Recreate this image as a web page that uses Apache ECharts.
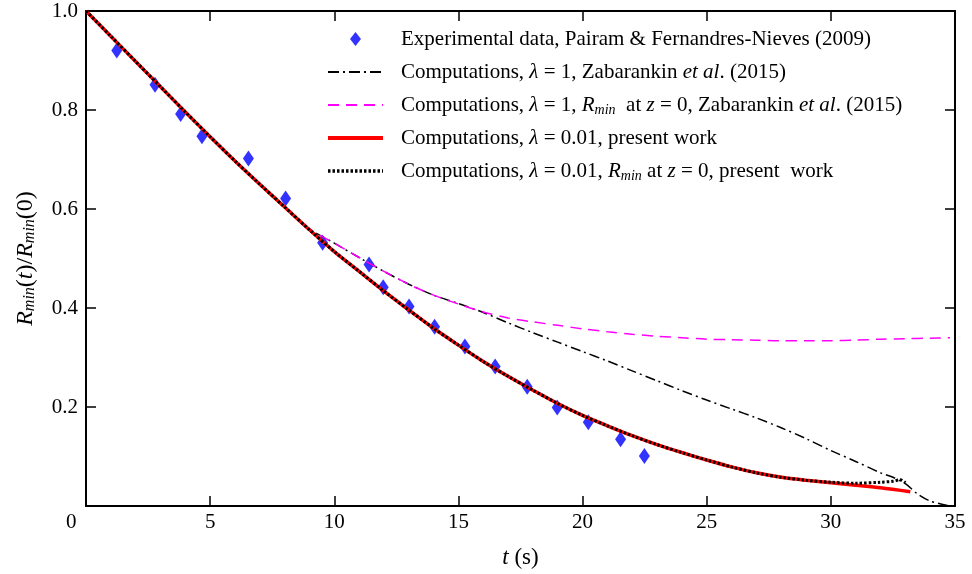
<!DOCTYPE html>
<html>
<head>
<meta charset="utf-8">
<script src="https://cdn.jsdelivr.net/npm/echarts@6/dist/echarts.min.js"></script>
<style>html,body{margin:0;padding:0;background:#fff;}#c{width:972px;height:574px;}</style>
</head>
<body>
<div id="c"></div>
<script>
// ---- data ----
var xTicks = [0, 5, 10, 15, 20, 25, 30, 35];
var yTicks = [0, 0.2, 0.4, 0.6, 0.8, 1.0];

var tExp = [1.24, 2.78, 3.81, 4.67, 6.54, 8.04, 9.53, 11.40, 11.97, 13.01, 14.04, 15.26, 16.48, 17.77, 18.98, 20.23, 21.53, 22.49];
var rExp = [0.920, 0.851, 0.792, 0.747, 0.702, 0.621, 0.532, 0.488, 0.442, 0.403, 0.362, 0.322, 0.282, 0.241, 0.199, 0.169, 0.135, 0.101];

var tZab = [0, 1, 2, 3, 4, 5, 6, 7, 8, 9, 10, 11, 12, 13, 14, 15, 16, 17, 18, 19, 20, 21, 22, 23, 24, 25, 26, 27, 28, 29, 30, 31, 32, 32.5, 33, 33.5, 34, 34.7];
var rZab = [1.0, 0.949, 0.898, 0.847, 0.796, 0.746, 0.697, 0.650, 0.604, 0.560, 0.531, 0.502, 0.474, 0.448, 0.426, 0.409, 0.391, 0.370, 0.350, 0.331, 0.312, 0.293, 0.273, 0.253, 0.233, 0.214, 0.196, 0.178, 0.158, 0.136, 0.112, 0.090, 0.067, 0.058, 0.045, 0.024, 0.010, 0.001];

var tZabZ0 = [0, 1, 2, 3, 4, 5, 6, 7, 8, 9, 10, 11, 12, 13, 14, 15, 16, 17, 18, 19, 20, 21, 22, 23, 24, 25, 26, 27, 28, 29, 30, 31, 32, 33, 34, 34.8];
var rZabZ0 = [1.0, 0.949, 0.898, 0.847, 0.796, 0.746, 0.697, 0.650, 0.604, 0.560, 0.531, 0.502, 0.474, 0.448, 0.426, 0.408, 0.392, 0.380, 0.372, 0.365, 0.358, 0.352, 0.347, 0.343, 0.340, 0.337, 0.336, 0.335, 0.334, 0.334, 0.334, 0.335, 0.337, 0.338, 0.339, 0.340];

var tPresent = [0, 1, 2, 3, 4, 5, 6, 7, 8, 9, 10, 11, 12, 13, 14, 15, 16, 17, 18, 19, 20, 21, 22, 23, 24, 25, 26, 27, 28, 29, 30, 31, 32, 33.2];
var rPresent = [1.0, 0.949, 0.898, 0.847, 0.796, 0.746, 0.697, 0.650, 0.604, 0.558, 0.514, 0.474, 0.434, 0.396, 0.359, 0.325, 0.292, 0.262, 0.234, 0.207, 0.183, 0.162, 0.142, 0.124, 0.108, 0.093, 0.079, 0.067, 0.058, 0.052, 0.047, 0.042, 0.037, 0.029];

var tPresentZ0 = [0, 1, 2, 3, 4, 5, 6, 7, 8, 9, 10, 11, 12, 13, 14, 15, 16, 17, 18, 19, 20, 21, 22, 23, 24, 25, 26, 27, 28, 29, 30, 31, 32, 32.5, 32.8, 33.0];
var rPresentZ0 = [1.0, 0.949, 0.898, 0.847, 0.796, 0.746, 0.697, 0.650, 0.604, 0.558, 0.514, 0.474, 0.434, 0.396, 0.359, 0.325, 0.292, 0.262, 0.234, 0.207, 0.183, 0.162, 0.142, 0.124, 0.108, 0.093, 0.079, 0.067, 0.058, 0.052, 0.048, 0.046, 0.048, 0.050, 0.053, 0.047];

var legendTexts = {
  exp: 'Experimental data, Pairam & Fernandres-Nieves (2009)',
  zab: 'Computations, {i|λ} = 1, Zabarankin {i|et al}. (2015)',
  zabz0: 'Computations, {i|λ} = 1, {i|R}{s|min}  at {i|z} = 0, Zabarankin {i|et al}. (2015)',
  present: 'Computations, {i|λ} = 0.01, present work',
  presentz0: 'Computations, {i|λ} = 0.01, {i|R}{s|min} at {i|z} = 0, present  work'
};

function pairs(t, r) { return t.map(function (v, i) { return [v, r[i]]; }); }

var FF = '"Liberation Serif", "DejaVu Serif", serif';
var chart = echarts.init(document.getElementById('c'));

var LH = 24;
var richBase = {
  i: { fontStyle: 'italic', fontFamily: FF, fontSize: 21, color: '#000', lineHeight: LH },
  s: { fontStyle: 'italic', fontFamily: FF, fontSize: 14, color: '#000', lineHeight: LH, verticalAlign: 'bottom', padding: [9, 0, 0, 0] }
};

function xAx(pos, showLabels) {
  return {
    type: 'value', position: pos, min: xTicks[0], max: xTicks[xTicks.length - 1], interval: xTicks[1] - xTicks[0],
    axisLine: { show: true, onZero: false, lineStyle: { color: '#000', width: 2 } },
    axisTick: { show: true, inside: true, length: 10, lineStyle: { color: '#000', width: 1.5 } },
    axisLabel: { show: showLabels, color: '#000', fontFamily: FF, fontSize: 21, margin: 6,
      formatter: function (v) { return v === 0 ? '' : String(v); } },
    splitLine: { show: false },
    name: showLabels ? '{i|t} (s)' : '',
    nameLocation: 'middle', nameGap: 40,
    nameTextStyle: { fontFamily: FF, fontSize: 23, color: '#000', rich: { i: { fontStyle: 'italic', fontFamily: FF, fontSize: 23, color: '#000' } } }
  };
}
function yAx(pos, showLabels) {
  return {
    type: 'value', position: pos, min: yTicks[0], max: yTicks[yTicks.length - 1], interval: yTicks[1] - yTicks[0],
    axisLine: { show: true, onZero: false, lineStyle: { color: '#000', width: 2 } },
    axisTick: { show: true, inside: true, length: 10, lineStyle: { color: '#000', width: 1.5 } },
    axisLabel: { show: showLabels, color: '#000', fontFamily: FF, fontSize: 21, margin: 8,
      formatter: function (v) { return v === 0 ? '' : v.toFixed(1); } },
    splitLine: { show: false },
    name: showLabels ? '{i|R}{s|min}{n|(}{i|t}{n|)/}{i|R}{s|min}{n|(0)}' : '',
    nameLocation: 'middle', nameGap: 48, nameRotate: 90,
    nameTextStyle: { fontFamily: FF, fontSize: 24, color: '#000', rich: {
      i: { fontStyle: 'italic', fontFamily: FF, fontSize: 24, color: '#000' },
      s: { fontStyle: 'italic', fontFamily: FF, fontSize: 16, color: '#000', verticalAlign: 'bottom', padding: [9, 0, 0, 0] },
      n: { fontFamily: FF, fontSize: 24, color: '#000' }
    } }
  };
}

var hide = { opacity: 0 };
chart.setOption({
  animation: false,
  backgroundColor: '#fff',
  grid: { left: 86, right: 17, top: 11, bottom: 67, containLabel: false },
  xAxis: [xAx('bottom', true), xAx('top', false)],
  yAxis: [yAx('left', true), yAx('right', false)],
  legend: {
    orient: 'vertical', left: 321, top: 22, itemWidth: 55, itemHeight: 14, itemGap: 9, itemTextGap: 20,
    data: [
      { name: 'exp', icon: 'path://M0,0 M55,14 M27.5,0 L33,7 L27.5,14 L22,7 Z', itemStyle: { color: '#0000ff' } },
      { name: 'zab', itemStyle: hide, lineStyle: { color: '#000', width: 2, type: [11, 4, 2, 4] } },
      { name: 'zabz0', itemStyle: hide, lineStyle: { color: '#ff00ff', width: 2, type: [11, 7] } },
      { name: 'present', itemStyle: hide, lineStyle: { color: '#ff0000', width: 4, type: 'solid' } },
      { name: 'presentz0', itemStyle: hide, lineStyle: { color: '#000', width: 3.5, type: [2.5, 2] } }
    ],
    formatter: function (n) { return legendTexts[n]; },
    textStyle: { fontFamily: FF, fontSize: 21, color: '#000', lineHeight: LH, padding: [0, 0, 0, 13], rich: richBase }
  },
  graphic: [{ type: 'text', left: 66, top: 512, style: { text: '0', font: '21px ' + FF, fill: '#000' } }],
  series: [
    { name: 'exp', type: 'scatter', data: pairs(tExp, rExp), symbol: 'diamond', symbolSize: [11, 16],
      itemStyle: { color: '#0000ff' }, z: 2 },
    { name: 'zab', type: 'line', data: pairs(tZab, rZab), showSymbol: false, smooth: 0.3,
      lineStyle: { color: '#000', width: 1.5, type: [10, 4, 2, 4] }, itemStyle: { color: '#000' }, z: 3 },
    { name: 'zabz0', type: 'line', data: pairs(tZabZ0, rZabZ0), showSymbol: false, smooth: 0.3,
      lineStyle: { color: '#ff00ff', width: 1.5, type: [11, 7] }, itemStyle: { color: '#ff00ff' }, z: 3 },
    { name: 'present', type: 'line', data: pairs(tPresent, rPresent), showSymbol: false, smooth: 0.3,
      lineStyle: { color: '#ff0000', width: 3.5 }, itemStyle: { color: '#ff0000' }, z: 4 },
    { name: 'presentz0', type: 'line', data: pairs(tPresentZ0, rPresentZ0), showSymbol: false, smooth: 0.3,
      lineStyle: { color: '#000', width: 3, type: [2.5, 2] }, itemStyle: { color: '#000' }, z: 5 }
  ]
});
</script>
</body>
</html>
